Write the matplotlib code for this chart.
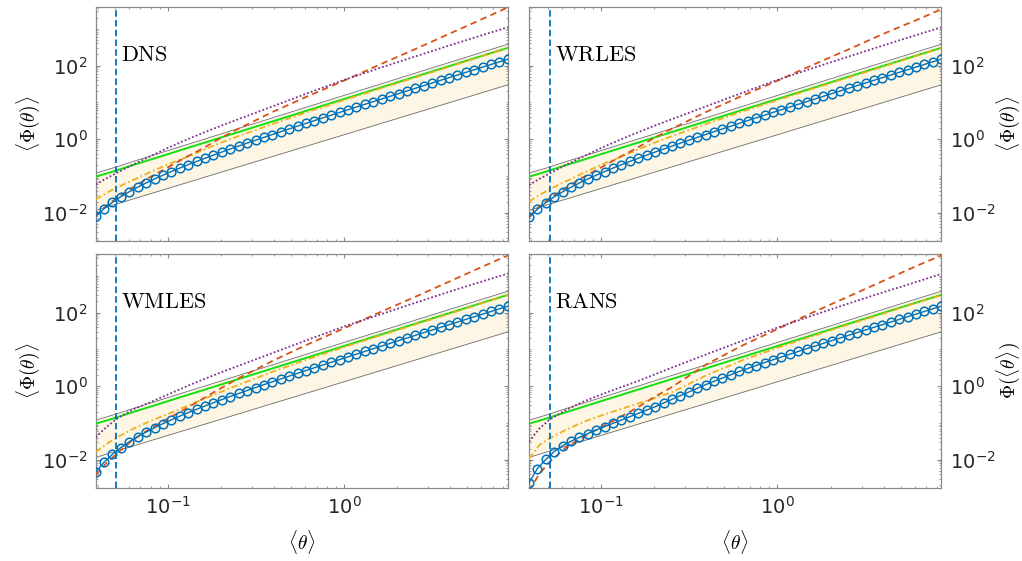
import matplotlib
matplotlib.use("Agg")
import matplotlib.pyplot as plt
from matplotlib.ticker import LogLocator, NullFormatter

plt.rcParams["axes.unicode_minus"] = False

# sample points of the marker series
theta = [0.0390, 0.04352, 0.04858, 0.05421, 0.06050, 0.06752, 0.07537, 0.08414, 0.09391, 0.1048,
         0.1170, 0.1305, 0.1457, 0.1626, 0.1815, 0.2026, 0.2261, 0.2524, 0.2817, 0.3144,
         0.3509, 0.3916, 0.4371, 0.4879, 0.5445, 0.6077, 0.6783, 0.7571, 0.8450, 0.9432,
         1.053, 1.175, 1.311, 1.464, 1.634, 1.823, 2.035, 2.271, 2.535, 2.829,
         3.158, 3.525, 3.934, 4.391, 4.900, 5.470, 6.105, 6.813, 7.603, 8.486]

dns_phi = [0.0080, 0.0128, 0.0192, 0.0272, 0.0371, 0.0493, 0.0644, 0.0826, 0.1047, 0.1313,
           0.1633, 0.2015, 0.2474, 0.302, 0.367, 0.445, 0.537, 0.647, 0.778, 0.932,
           1.115, 1.332, 1.589, 1.893, 2.252, 2.677, 3.180, 3.774, 4.476, 5.306,
           6.287, 7.442, 8.803, 10.42, 12.33, 14.56, 17.21, 20.34, 24.03, 28.38,
           33.52, 39.58, 46.72, 55.15, 65.08, 76.83, 90.66, 106.9, 126.2, 148.9]
wrles_phi = [0.0076, 0.0124, 0.0188, 0.0270, 0.0369, 0.0492, 0.0643, 0.0825, 0.1046, 0.1312,
             0.1633, 0.2015, 0.2474, 0.302, 0.367, 0.445, 0.537, 0.647, 0.778, 0.932,
             1.115, 1.332, 1.589, 1.893, 2.252, 2.677, 3.180, 3.774, 4.476, 5.306,
             6.287, 7.442, 8.803, 10.42, 12.33, 14.56, 17.21, 20.34, 24.03, 28.38,
             33.52, 39.58, 46.72, 55.15, 65.08, 76.83, 90.66, 106.9, 126.2, 148.9]
wmles_phi = [0.0046, 0.0085, 0.0141, 0.0214, 0.0307, 0.0422, 0.0565, 0.0741, 0.0955, 0.1213,
             0.1526, 0.1899, 0.2350, 0.2888, 0.3532, 0.4301, 0.5214, 0.6303, 0.7594, 0.9127,
             1.095, 1.310, 1.566, 1.868, 2.226, 2.649, 3.151, 3.743, 4.443, 5.271,
             6.251, 7.403, 8.762, 10.38, 12.28, 14.51, 17.16, 20.28, 23.97, 28.32,
             33.45, 39.51, 46.65, 55.08, 65.0, 76.74, 90.57, 106.9, 126.1, 148.7]
rans_phi = [0.00234, 0.00575, 0.0102, 0.0166, 0.0240, 0.0316, 0.0407, 0.0513, 0.0646, 0.0794,
            0.0977, 0.120, 0.148, 0.182, 0.224, 0.275, 0.347, 0.437, 0.550, 0.692,
            0.871, 1.096, 1.349, 1.660, 2.042, 2.512, 3.02, 3.63, 4.37, 5.19,
            6.17, 7.36, 8.74, 10.37, 12.29, 14.53, 17.2, 20.33, 24.02, 28.37,
            33.5, 39.57, 46.7, 55.13, 65.06, 76.8, 90.6, 106.8, 126.1, 148.8]

# sample points of the line series
theta_line = [0.039, 0.0447, 0.0513, 0.0631, 0.0794, 0.1, 0.1259, 0.1585, 0.1995, 0.2512,
              0.3981, 0.631, 1.0, 1.585, 2.512, 3.981, 6.31, 8.49]

band_upper = [0.119, 0.144, 0.176, 0.244, 0.344, 0.486, 0.688, 0.970, 1.37, 1.94,
              3.86, 7.71, 15.4, 30.6, 61.3, 122, 244, 378]
band_lower = [0.0115, 0.0141, 0.0172, 0.0233, 0.0326, 0.0456, 0.0638, 0.0893, 0.125, 0.175,
              0.343, 0.671, 1.315, 2.58, 5.05, 9.89, 19.4, 29.9]
green_phi = [0.0955, 0.115, 0.141, 0.195, 0.275, 0.389, 0.550, 0.776, 1.096, 1.549,
             3.09, 6.17, 12.3, 24.5, 49.0, 97.7, 195, 302]

dns_red = [0.00813, 0.0151, 0.0251, 0.0479, 0.0933, 0.170, 0.316, 0.562, 1.072, 1.905,
           5.62, 15.1, 38.9, 105, 275, 741, 1995, 3802]
dns_purple = [0.0589, 0.0851, 0.120, 0.200, 0.339, 0.575, 0.933, 1.48, 2.29, 3.47,
              7.94, 18.2, 40.7, 85.1, 174, 355, 708, 1096]
dns_orange = [0.0229, 0.0339, 0.0479, 0.0759, 0.126, 0.204, 0.316, 0.501, 0.794, 1.202,
              2.63, 5.62, 11.5, 23.4, 46.8, 93.3, 191, 295]

wrles_red = [0.0076, 0.0148, 0.0249, 0.0476, 0.0930, 0.169, 0.315, 0.560, 1.068, 1.900,
             5.60, 15.0, 38.6, 104, 270, 724, 1820, 3388]
wrles_purple = [0.0562, 0.0832, 0.118, 0.198, 0.337, 0.573, 0.930, 1.47, 2.28, 3.46,
                7.92, 18.1, 40.5, 84.8, 173, 352, 703, 1090]
wrles_orange = [0.0200, 0.0302, 0.0437, 0.0708, 0.120, 0.200, 0.312, 0.497, 0.790, 1.198,
                2.62, 5.60, 11.5, 23.4, 46.8, 93.3, 191, 295]

wmles_red = [0.00372, 0.00794, 0.0145, 0.0340, 0.0700, 0.130, 0.240, 0.457, 0.871, 1.622,
             5.01, 14.1, 37.2, 100, 263, 708, 1905, 3548]
wmles_purple = [0.0407, 0.0759, 0.129, 0.229, 0.363, 0.589, 0.955, 1.514, 2.344, 3.548,
                8.13, 18.6, 41.7, 87.1, 182, 372, 741, 1148]
wmles_orange = [0.0162, 0.0263, 0.0398, 0.0676, 0.112, 0.174, 0.275, 0.437, 0.692, 1.072,
                2.512, 5.50, 11.5, 23.4, 46.8, 93.3, 191, 295]

rans_red = [0.00141, 0.00417, 0.00891, 0.0214, 0.0417, 0.0759, 0.138, 0.251, 0.501, 0.933,
            3.98, 12.6, 35.5, 100, 269, 724, 1950, 3548]
rans_purple = [0.0309, 0.0708, 0.126, 0.224, 0.380, 0.589, 0.891, 1.318, 2.042, 3.162,
               7.41, 17.0, 38.9, 83.2, 174, 355, 708, 1122]
rans_orange = [0.0105, 0.0251, 0.0389, 0.0646, 0.107, 0.158, 0.229, 0.324, 0.468, 0.676,
               2.00, 5.01, 11.0, 22.9, 46.8, 93.3, 191, 295]

theta_c = 0.051
panel_names = ["DNS", "WRLES", "WMLES", "RANS"]
right_labels = [None, r"$\langle\Phi(\theta)\rangle$", None, r"$\Phi(\langle\theta\rangle)$"]

panels = [
    (dns_phi, dns_red, dns_purple, dns_orange),
    (wrles_phi, wrles_red, wrles_purple, wrles_orange),
    (wmles_phi, wmles_red, wmles_purple, wmles_orange),
    (rans_phi, rans_red, rans_purple, rans_orange),
]

frame = "#8a8a8a"
fig = plt.figure(figsize=(10.22, 5.61), dpi=100)
boxes = [[0.0936, 0.5704, 0.4034, 0.4171], [0.5176, 0.5704, 0.4034, 0.4171],
         [0.0936, 0.1301, 0.4034, 0.4171], [0.5176, 0.1301, 0.4034, 0.4171]]

for i, (phi, red, purple, orange) in enumerate(panels):
    ax = fig.add_axes(boxes[i])
    ax.set_xscale("log")
    ax.set_yscale("log")

    ax.fill_between(theta_line, band_lower, band_upper, color="#fdf6e4", lw=0, zorder=1)
    ax.plot(theta_line, band_upper, color="#6e6e6e", lw=0.6, zorder=2)
    ax.plot(theta_line, band_lower, color="#6e6e6e", lw=0.6, zorder=2)
    ax.plot(theta_line, green_phi, color="#11e011", lw=1.4, zorder=3)
    ax.plot(theta_line, orange, color="#EDB120", lw=1.3, ls=(0, (3.6, 1.5, 1, 1.5)), zorder=4)
    ax.plot(theta_line, red, color="#D95319", lw=1.3, ls=(0, (3.6, 2.4)), zorder=5)
    ax.plot(theta_line, purple, color="#7E2F8E", lw=1.3, ls=(0, (1, 1.2)), zorder=5)
    ax.plot(theta, phi, color="#0072BD", lw=1.0, marker="o", ms=6.2, mew=1.1,
            mfc="none", zorder=6)
    ax.axvline(theta_c, color="#0072BD", lw=1.3, ls=(0, (3.6, 1.8)), zorder=7)

    ax.set_xlim(0.039, 8.49)
    ax.set_ylim(0.0017, 3890)
    ax.set_xticks([0.1, 1])
    ax.set_yticks([1e-2, 1, 1e2])
    ax.xaxis.set_minor_locator(LogLocator(base=10, subs=range(1, 10), numticks=20))
    ax.yaxis.set_minor_locator(LogLocator(base=10, subs=range(1, 10), numticks=30))
    ax.xaxis.set_minor_formatter(NullFormatter())
    ax.yaxis.set_minor_formatter(NullFormatter())

    ax.tick_params(which="both", direction="in", top=True, right=True, left=True, bottom=True,
                   color=frame, labelsize=14, labelcolor="#262626")
    ax.tick_params(which="major", length=3, width=0.8, pad=6)
    ax.tick_params(which="minor", length=1.6, width=0.6)
    for s in ax.spines.values():
        s.set_color(frame)
        s.set_linewidth(0.9)

    if i < 2:
        ax.tick_params(labelbottom=False)
    else:
        ax.set_xlabel(r"$\langle\theta\rangle$", fontsize=14, math_fontfamily="cm")
        ax.xaxis.set_label_coords(0.5, -0.17)

    if i % 2 == 0:
        ax.set_ylabel(r"$\langle\Phi(\theta)\rangle$", fontsize=14, math_fontfamily="cm")
        ax.yaxis.set_label_coords(-0.13, 0.5)
    else:
        ax.tick_params(labelleft=False, labelright=True)
        ax.yaxis.set_label_position("right")
        ax.set_ylabel(right_labels[i], fontsize=14, math_fontfamily="cm")
        ax.yaxis.set_label_coords(1.13, 0.5)

    ax.text(0.062, 0.77, r"$\mathrm{" + panel_names[i] + "}$", transform=ax.transAxes,
            fontsize=16, math_fontfamily="cm", va="baseline", ha="left", zorder=8)

fig.savefig("out.png", dpi=100)
